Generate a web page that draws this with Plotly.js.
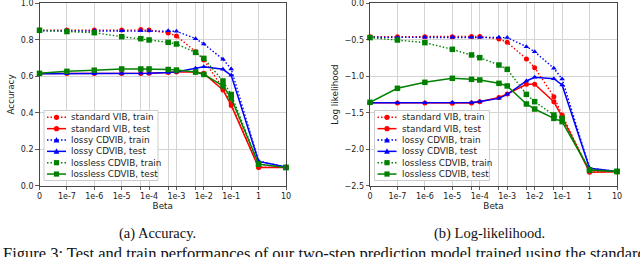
<!DOCTYPE html>
<html>
<head>
<meta charset="utf-8">
<script src="https://cdn.plot.ly/plotly-3.0.1.min.js"></script>
<style>
html,body{margin:0;padding:0;background:#fff;}
#chart{width:640px;height:257px;}
</style>
</head>
<body>
<div id="chart"></div>
<script>
// ---------------- data ----------------
const betaValues = [0, 1e-7, 1e-6, 1e-5, 5e-5, 1e-4, 5e-4, 1e-3, 5e-3, 1e-2, 5e-2, 1e-1, 1, 10];
const betaTickText = ['0', '1e-7', '1e-6', '1e-5', '', '1e-4', '', '1e-3', '', '1e-2', '', '1e-1', '1', '10'];
const seriesNames = ['standard VIB, train', 'standard VIB, test', 'lossy CDVIB, train', 'lossy CDVIB, test', 'lossless CDVIB, train', 'lossless CDVIB, test'];

// Accuracy
const accVibTrain      = [0.853, 0.853, 0.853, 0.853, 0.856, 0.853, 0.837, 0.821, 0.735, 0.689, 0.534, 0.450, 0.102, 0.100];
const accVibTest       = [0.615, 0.615, 0.615, 0.615, 0.615, 0.616, 0.620, 0.624, 0.624, 0.616, 0.525, 0.440, 0.100, 0.100];
const accLossyTrain    = [0.849, 0.849, 0.849, 0.849, 0.849, 0.849, 0.849, 0.847, 0.806, 0.777, 0.693, 0.640, 0.135, 0.102];
const accLossyTest     = [0.614, 0.614, 0.614, 0.615, 0.616, 0.617, 0.620, 0.624, 0.644, 0.652, 0.638, 0.605, 0.133, 0.102];
const accLosslessTrain = [0.852, 0.845, 0.839, 0.817, 0.806, 0.799, 0.786, 0.777, 0.731, 0.698, 0.574, 0.500, 0.118, 0.100];
const accLosslessTest  = [0.616, 0.627, 0.633, 0.640, 0.640, 0.640, 0.637, 0.634, 0.623, 0.610, 0.547, 0.480, 0.118, 0.100];

// Log likelihood
const llVibTrain      = [-0.457, -0.457, -0.457, -0.457, -0.455, -0.455, -0.489, -0.535, -0.763, -0.882, -1.280, -1.530, -2.310, -2.310];
const llVibTest       = [-1.362, -1.365, -1.365, -1.370, -1.365, -1.350, -1.290, -1.243, -1.110, -1.110, -1.350, -1.555, -2.317, -2.310];
const llLossyTrain    = [-0.466, -0.466, -0.466, -0.466, -0.466, -0.466, -0.466, -0.470, -0.594, -0.663, -0.891, -1.037, -2.260, -2.305];
const llLossyTest     = [-1.362, -1.362, -1.362, -1.360, -1.358, -1.345, -1.303, -1.248, -1.065, -1.015, -1.033, -1.120, -2.260, -2.305];
const llLosslessTrain = [-0.470, -0.503, -0.539, -0.631, -0.708, -0.745, -0.846, -0.905, -1.248, -1.348, -1.531, -1.577, -2.285, -2.305];
const llLosslessTest  = [-1.357, -1.165, -1.083, -1.028, -1.042, -1.051, -1.097, -1.133, -1.380, -1.449, -1.577, -1.622, -2.285, -2.305];

const accSeries = [accVibTrain, accVibTest, accLossyTrain, accLossyTest, accLosslessTrain, accLosslessTest];
const llSeries  = [llVibTrain, llVibTest, llLossyTrain, llLossyTest, llLosslessTrain, llLosslessTest];

const accTicks = [0, 0.2, 0.4, 0.6, 0.8, 1.0];
const llTicks  = [-2.5, -2.0, -1.5, -1.0, -0.5, 0.0];

// ---------------- styles ----------------
const seriesColors  = ['#ff0000', '#ff0000', '#0000ff', '#0000ff', '#008000', '#008000'];
const seriesDash    = ['1.5px,2px', 'solid', '1.5px,2px', 'solid', '1.5px,2px', 'solid'];
const seriesSymbols = ['circle', 'circle', 'triangle-up', 'triangle-up', 'square', 'square'];

const W = 640, H = 257;
const ZERO_POS = 1e-8;   // where beta = 0 is drawn on the log axis
const xPlot = betaValues.map(b => b === 0 ? ZERO_POS : b);

const plotTop = 3.3, plotBottom = 185.7;
const leftPlot  = [39.5, 286];
const rightPlot = [370, 617];
const yDom = [1 - plotBottom / H, 1 - plotTop / H];

const tickFont = {family: 'DejaVu Sans', size: 8, color: '#222'};
const titleFont = {family: 'DejaVu Sans', size: 8.8, color: '#222'};
const isDotted = d => d !== 'solid';

const traces = [];
function addSeries(seriesList, xa, ya) {
  seriesList.forEach((vals, i) => {
    traces.push({
      type: 'scatter', mode: 'lines+markers',
      x: xPlot, y: vals, xaxis: xa, yaxis: ya,
      name: seriesNames[i], showlegend: false, cliponaxis: false,
      line: {color: seriesColors[i], width: isDotted(seriesDash[i]) ? 1.4 : 1.5, dash: seriesDash[i]},
      marker: {color: seriesColors[i], symbol: seriesSymbols[i], size: seriesSymbols[i] === 'square' ? 5.5 : 5}
    });
  });
}
addSeries(accSeries, 'x', 'y');
addSeries(llSeries, 'x2', 'y2');

function xAxisDef(dom, anchor) {
  return {
    domain: [dom[0] / W, dom[1] / W], anchor: anchor,
    type: 'log', range: [Math.log10(ZERO_POS), 1],
    tickmode: 'array', tickvals: xPlot, ticktext: betaTickText,
    ticks: 'outside', ticklen: 3, tickwidth: 0.8, tickcolor: '#333',
    showgrid: true, gridcolor: '#d4d4d4', gridwidth: 1,
    showline: true, linecolor: '#333', linewidth: 0.9, mirror: true,
    zeroline: false, tickfont: tickFont, ticklabeloverflow: 'allow',
    title: {text: 'Beta', font: titleFont, standoff: 1}
  };
}
function yAxisDef(anchor, range, ticks, title) {
  return {
    domain: yDom, anchor: anchor, range: range,
    tickmode: 'array', tickvals: ticks, tickformat: '.1f',
    ticks: 'outside', ticklen: 3.5, tickwidth: 0.8, tickcolor: '#333',
    showgrid: true, gridcolor: '#d4d4d4', gridwidth: 1,
    showline: true, linecolor: '#333', linewidth: 0.9, mirror: true,
    zeroline: false, tickfont: tickFont, ticklabeloverflow: 'allow',
    title: {text: title, font: titleFont, standoff: 4}
  };
}

// ---------------- custom compact legend ----------------
const shapes = [];
const annotations = [];
const px = v => v / W;
const py = v => 1 - v / H;

function addLegend(plotLeft, boxW) {
  const boxL = plotLeft + 4.5, boxT = 110.5, boxH = 70;
  shapes.push({type: 'rect', xref: 'paper', yref: 'paper',
    x0: px(boxL), x1: px(boxL + boxW), y0: py(boxT + boxH), y1: py(boxT),
    fillcolor: 'rgba(255,255,255,0.85)', line: {color: '#cccccc', width: 1}, layer: 'above'});
  seriesNames.forEach((name, i) => {
    const cy = boxT + 6.8 + i * 11.35;
    const lx0 = plotLeft + 7.5, lx1 = plotLeft + 26.5, mx = plotLeft + 17;
    shapes.push({type: 'line', xref: 'paper', yref: 'paper',
      x0: px(lx0), x1: px(lx1), y0: py(cy), y1: py(cy), layer: 'above',
      line: {color: seriesColors[i], width: isDotted(seriesDash[i]) ? 1.4 : 1.5, dash: seriesDash[i]}});
    const r = 2.6;
    if (seriesSymbols[i] === 'circle') {
      shapes.push({type: 'circle', xref: 'paper', yref: 'paper', layer: 'above',
        x0: px(mx - r), x1: px(mx + r), y0: py(cy + r), y1: py(cy - r),
        fillcolor: seriesColors[i], line: {width: 0}});
    } else if (seriesSymbols[i] === 'square') {
      shapes.push({type: 'rect', xref: 'paper', yref: 'paper', layer: 'above',
        x0: px(mx - r), x1: px(mx + r), y0: py(cy + r), y1: py(cy - r),
        fillcolor: seriesColors[i], line: {width: 0}});
    } else {
      const p = 'M' + px(mx - 2.9) + ',' + py(cy + 2.4) + ' L' + px(mx + 2.9) + ',' + py(cy + 2.4) +
                ' L' + px(mx) + ',' + py(cy - 3) + ' Z';
      shapes.push({type: 'path', xref: 'paper', yref: 'paper', layer: 'above', path: p,
        fillcolor: seriesColors[i], line: {width: 0}});
    }
    annotations.push({xref: 'paper', yref: 'paper', x: px(plotLeft + 29.5), y: py(cy),
      xanchor: 'left', yanchor: 'middle', showarrow: false, text: name,
      font: {family: 'DejaVu Sans', size: 8.8, color: '#222'}});
  });
}
addLegend(leftPlot[0], 114);
addLegend(rightPlot[0], 115);

// captions
const subCapFont = {family: 'Liberation Serif', size: 14.5, color: '#111'};
const capFont = {family: 'Liberation Serif', size: 16.5, color: '#111'};
annotations.push({xref: 'paper', yref: 'paper', x: px(157), y: py(233), xanchor: 'center', yanchor: 'middle',
  showarrow: false, text: '(a) Accuracy.', font: subCapFont});
annotations.push({xref: 'paper', yref: 'paper', x: px(489), y: py(233), xanchor: 'center', yanchor: 'middle',
  showarrow: false, text: '(b) Log-likelihood.', font: subCapFont});
annotations.push({xref: 'paper', yref: 'paper', x: px(1), y: py(253), xanchor: 'left', yanchor: 'middle',
  showarrow: false, text: 'Figure 3: Test and train performances of our two-step prediction model trained using the standard',
  font: capFont});

const layout = {
  width: W, height: H,
  margin: {l: 0, r: 0, t: 0, b: 0},
  paper_bgcolor: '#fff', plot_bgcolor: '#fff',
  showlegend: false,
  xaxis: xAxisDef(leftPlot, 'y'),
  yaxis: yAxisDef('x', [0, 1], accTicks, 'Accuracy'),
  xaxis2: xAxisDef(rightPlot, 'y2'),
  yaxis2: yAxisDef('x2', [-2.5, 0], llTicks, 'Log likelihood'),
  shapes: shapes,
  annotations: annotations
};

Plotly.newPlot('chart', traces, layout, {displayModeBar: false, staticPlot: true});
</script>
</body>
</html>
